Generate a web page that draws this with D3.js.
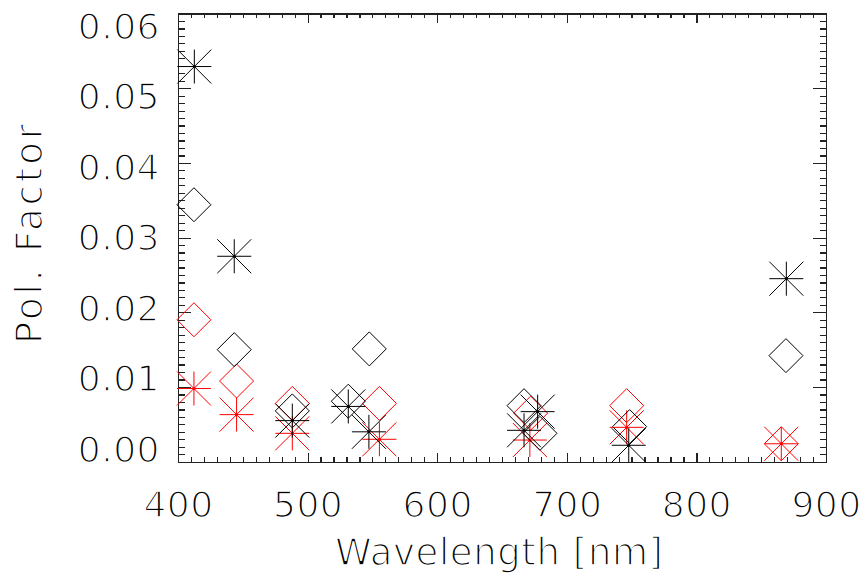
<!DOCTYPE html>
<html>
<head>
<meta charset="utf-8">
<script src="https://cdn.jsdelivr.net/npm/d3@7"></script>
<style>
  body { margin: 0; background: #fff; }
  svg { display: block; }
  /* thin the glyphs a little with a white outline, the original uses a stroke font */
  .lbl { font-family: "DejaVu Sans", sans-serif; fill: #000; stroke: #fff; stroke-width: 1.6px; paint-order: normal; }
  .axis path, .axis line { stroke: #222; stroke-width: 1.2; shape-rendering: crispEdges; }
</style>
</head>
<body>
<div id="chart"></div>
<script>
// data
const xTicks = [400, 500, 600, 700, 800, 900]
const yTicks = [0, 0.01, 0.02, 0.03, 0.04, 0.05, 0.06]

const blackStarWl = [412.6, 443.4, 488.2, 531.4, 547.3, 667.0, 677.5, 747.8, 869.4]
const blackStarVal = [0.0529, 0.0275, 0.0055, 0.0074, 0.0040, 0.0042, 0.0067, 0.0022, 0.0245]

const blackDiamWl = [412.3, 443.4, 488.2, 531.4, 547.6, 667.0, 679.3, 748.5, 869.1]
const blackDiamVal = [0.0344, 0.0150, 0.0068, 0.0081, 0.0151, 0.0075, 0.0038, 0.0047, 0.0142]

const redStarWl = [412.3, 445.2, 488.2, 555.4, 671.5, 746.2, 865.5]
const redStarVal = [0.0098, 0.0063, 0.0038, 0.0030, 0.0029, 0.0046, 0.0024]

const redDiamWl = [412.3, 445.2, 488.2, 555.4, 672.1, 746.2, 865.5]
const redDiamVal = [0.0190, 0.0108, 0.0078, 0.0078, 0.0065, 0.0075, 0.0024]

const series = [
  { wl: redDiamWl, val: redDiamVal, color: "#ff0000", sym: "diamond" },
  { wl: redStarWl, val: redStarVal, color: "#ff0000", sym: "star" },
  { wl: blackDiamWl, val: blackDiamVal, color: "#000", sym: "diamond" },
  { wl: blackStarWl, val: blackStarVal, color: "#000", sym: "star" }
]

// dimensions
let margin = { top: 13.5, right: 39, bottom: 114.3, left: 178 }
let width = 865 - margin.left - margin.right
let height = 576 - margin.top - margin.bottom

let svg = d3.select("#chart").append("svg")
  .attr("width", 865)
  .attr("height", 576)

let g = svg.append("g")
  .attr("transform", "translate(" + margin.left + "," + margin.top + ")")

// scales
let x = d3.scaleLinear().domain([400, 900]).range([0, width])
let y = d3.scaleLinear().domain([0, 0.06]).range([height, 0])
// tick labels sit a bit inward from the end ticks in the original
let yLab = d3.scaleLinear().domain([0, 0.06]).range([height - 13.2, 12])

let xMinor = d3.range(400, 901, 10)
let yMinor = d3.range(0, 61).map(d => d / 1000)

let xTickLen = 9, yTickLen = 13

// box ticks, all pointing inward
g.append("g").attr("class", "axis")
  .attr("transform", "translate(0," + height + ")")
  .call(d3.axisBottom(x).tickValues(xMinor).tickSize(-xTickLen / 2).tickFormat("").tickSizeOuter(0))
g.append("g").attr("class", "axis")
  .attr("transform", "translate(0," + height + ")")
  .call(d3.axisBottom(x).tickValues(xTicks).tickSize(-xTickLen).tickFormat("").tickSizeOuter(0))
g.append("g").attr("class", "axis")
  .call(d3.axisTop(x).tickValues(xMinor).tickSize(-xTickLen / 2).tickFormat("").tickSizeOuter(0))
g.append("g").attr("class", "axis")
  .call(d3.axisTop(x).tickValues(xTicks).tickSize(-xTickLen).tickFormat("").tickSizeOuter(0))

g.append("g").attr("class", "axis")
  .call(d3.axisLeft(y).tickValues(yMinor).tickSize(-yTickLen / 2).tickFormat("").tickSizeOuter(0))
g.append("g").attr("class", "axis")
  .call(d3.axisLeft(y).tickValues(yTicks).tickSize(-yTickLen).tickFormat("").tickSizeOuter(0))
g.append("g").attr("class", "axis")
  .attr("transform", "translate(" + width + ",0)")
  .call(d3.axisRight(y).tickValues(yMinor).tickSize(-yTickLen / 2).tickFormat("").tickSizeOuter(0))
g.append("g").attr("class", "axis")
  .attr("transform", "translate(" + width + ",0)")
  .call(d3.axisRight(y).tickValues(yTicks).tickSize(-yTickLen).tickFormat("").tickSizeOuter(0))

// tick labels
let xl = g.append("g")
  .call(d3.axisBottom(x).tickValues(xTicks).tickSize(0).tickFormat(d3.format("d")))
  .attr("transform", "translate(0," + height + ")")
xl.select(".domain").remove()
xl.selectAll("text")
  .attr("class", "lbl")
  .attr("y", 55.3)
  .attr("dy", null)
  .style("font-size", "36px")
  .style("letter-spacing", "0.5px")

let yl = g.append("g")
  .call(d3.axisLeft(yLab).tickValues(yTicks).tickSize(0).tickFormat(d3.format(".2f")))
yl.select(".domain").remove()
yl.selectAll("text")
  .attr("class", "lbl")
  .attr("x", -18)
  .attr("dy", "0.36em")
  .style("font-size", "36px")
  .style("letter-spacing", "0.5px")

// titles
svg.append("text")
  .attr("class", "lbl")
  .attr("x", 499)
  .attr("y", 565)
  .attr("text-anchor", "middle")
  .attr("textLength", 328)
  .attr("lengthAdjust", "spacing")
  .style("font-size", "37px")
  .text("Wavelength [nm]")

svg.append("text")
  .attr("class", "lbl")
  .attr("transform", "translate(42,234) rotate(-90)")
  .attr("text-anchor", "middle")
  .attr("textLength", 220)
  .attr("lengthAdjust", "spacing")
  .style("font-size", "37px")
  .text("Pol. Factor")

// symbols
let s = 17
let starPath = `M${-s},0H${s}M0,${-s}V${s}M${-s},${-s}L${s},${s}M${-s},${s}L${s},${-s}`
let diamPath = `M0,${-s}L${s},0L0,${s}L${-s},0Z`

series.forEach(ser => {
  let pts = ser.wl.map((w, i) => ({ w: w, v: ser.val[i] }))
  let grp = g.append("g")
  grp.selectAll("path")
    .data(pts)
    .enter()
    .append("path")
    .attr("transform", d => "translate(" + x(d.w) + "," + y(d.v) + ")")
    .attr("d", ser.sym === "star" ? starPath : diamPath)
    .attr("fill", "none")
    .attr("stroke", ser.color)
    .attr("stroke-width", 1)
  if (ser.sym === "star") {
    grp.selectAll("circle")
      .data(pts)
      .enter()
      .append("circle")
      .attr("cx", d => x(d.w))
      .attr("cy", d => y(d.v))
      .attr("r", 1.5)
      .attr("fill", ser.color)
  }
})
</script>
</body>
</html>
